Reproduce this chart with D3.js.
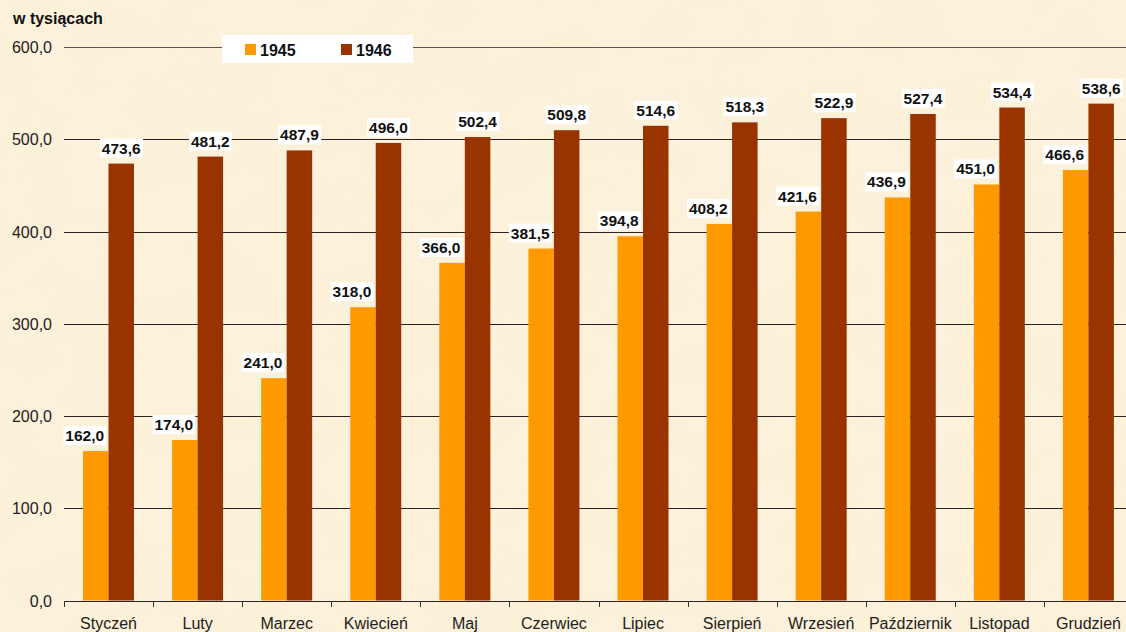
<!DOCTYPE html>
<html>
<head>
<meta charset="utf-8">
<script src="https://cdn.jsdelivr.net/npm/d3@7/dist/d3.min.js"></script>
<style>
  html, body { margin: 0; padding: 0; background: #fcf1da; }
  svg { display: block; font-family: Arial, "Liberation Sans", sans-serif; }
</style>
</head>
<body>
<svg id="chart" width="1126" height="632"></svg>
<script>
// Monthly figures, in thousands
const months = ["Styczeń", "Luty", "Marzec", "Kwiecień", "Maj", "Czerwiec",
                "Lipiec", "Sierpień", "Wrzesień", "Październik", "Listopad", "Grudzień"];
const seriesNames = ["1945", "1946"];
const values1945 = [162.0, 174.0, 241.0, 318.0, 366.0, 381.5, 394.8, 408.2, 421.6, 436.9, 451.0, 466.6];
const values1946 = [473.6, 481.2, 487.9, 496.0, 502.4, 509.8, 514.6, 518.3, 522.9, 527.4, 534.4, 538.6];
const yTicks = [0, 100, 200, 300, 400, 500, 600];
const unitLabel = "w tysiącach";

const colors = { "1945": "#ff9900", "1946": "#993300" };
const fmt = v => v.toFixed(1).replace(".", ",");

const svg = d3.select("#chart");
const W = 1126, H = 632;

// parchment background
const defs = svg.append("defs");
const f = defs.append("filter").attr("id", "paper").attr("x", 0).attr("y", 0)
  .attr("width", "100%").attr("height", "100%");
f.append("feTurbulence").attr("type", "fractalNoise").attr("baseFrequency", "0.015 0.022")
  .attr("numOctaves", 3).attr("seed", 7).attr("result", "noise");
f.append("feColorMatrix").attr("in", "noise").attr("type", "matrix")
  .attr("values", "0 0 0 0 0.95  0 0 0 0 0.86  0 0 0 0 0.66  0 0 0 1.4 -0.55")
  .attr("result", "tint");
f.append("feComposite").attr("in", "tint").attr("in2", "SourceGraphic").attr("operator", "in");
svg.append("rect").attr("width", W).attr("height", H).attr("fill", "#fcf1da");
svg.append("rect").attr("width", W).attr("height", H).attr("fill", "#fff").attr("filter", "url(#paper)").attr("opacity", 0.6);

const data = months.map((m, i) => ({ month: m, "1945": values1945[i], "1946": values1946[i] }));

const plotLeft = 64, plotRight = 1133, plotTop = 47, plotBottom = 600.5;
const x = d3.scaleBand().domain(months).range([plotLeft, plotRight]).padding(0);
const xs = d3.scaleBand().domain(seriesNames).range([19, 70]).padding(0);
const y = d3.scaleLinear().domain([0, 600]).range([plotBottom, plotTop]);

// gridlines
svg.append("g").selectAll("line").data(yTicks.filter(t => t > 0)).join("line")
  .attr("x1", plotLeft).attr("x2", W)
  .attr("y1", d => Math.round(y(d)) + 0.5).attr("y2", d => Math.round(y(d)) + 0.5)
  .attr("stroke", d => d === 600 ? "#5a5550" : "#2a2520").attr("stroke-width", 1.2);

// y tick labels
svg.append("g").selectAll("text").data(yTicks).join("text")
  .attr("x", 52).attr("y", d => y(d) + 6)
  .attr("text-anchor", "end").attr("font-size", 16).attr("fill", "#222")
  .text(d => fmt(d));

// unit label
svg.append("text").attr("x", 13).attr("y", 24).attr("font-size", 16)
  .attr("font-weight", "bold").attr("fill", "#111").text(unitLabel);

// bars
const groups = svg.append("g").selectAll("g").data(data).join("g")
  .attr("transform", d => `translate(${x(d.month)},0)`);
groups.selectAll("rect").data(d => seriesNames.map(s => ({ s, v: d[s] }))).join("rect")
  .attr("x", d => xs(d.s)).attr("width", xs.bandwidth())
  .attr("y", d => y(d.v)).attr("height", d => y(0) - y(d.v))
  .attr("fill", d => colors[d.s]);

// x axis
const xAxis = d3.axisBottom(x).tickSize(0).tickPadding(0);
const gx = svg.append("g").attr("transform", `translate(0,${Math.round(plotBottom) + 0.5})`).call(xAxis);
gx.select(".domain").attr("stroke", "#2a2520").attr("stroke-width", 1.2).attr("d", `M${plotLeft},0H${W}`);
gx.selectAll("text").attr("font-size", 16).attr("fill", "#222")
  .attr("font-family", "Arial, 'Liberation Sans', sans-serif").attr("y", 27).attr("dy", 0);
// tick marks at band boundaries
svg.append("g").selectAll("line").data(months).join("line")
  .attr("x1", d => Math.round(x(d)) + 0.5).attr("x2", d => Math.round(x(d)) + 0.5)
  .attr("y1", Math.round(plotBottom)).attr("y2", Math.round(plotBottom) + 6)
  .attr("stroke", "#333");

// data labels with white boxes
const labels = svg.append("g");
data.forEach(d => {
  seriesNames.forEach(s => {
    const cx = x(d.month) + xs(s) + xs.bandwidth() / 2 + (s === "1945" ? -11 : 0);
    const by = y(d[s]) - 6;
    const g = labels.append("g");
    const t = g.append("text").attr("x", cx).attr("y", by - 4)
      .attr("text-anchor", "middle").attr("font-size", 15.5).attr("font-weight", "bold")
      .attr("fill", "#111").text(fmt(d[s]));
    const bb = t.node().getBBox();
    g.insert("rect", "text").attr("x", bb.x - 2).attr("y", by - 19)
      .attr("width", bb.width + 4).attr("height", 19).attr("fill", "#fff");
  });
});

// legend
const lg = svg.append("g");
lg.append("rect").attr("x", 222).attr("y", 35).attr("width", 191).attr("height", 28).attr("fill", "#fff");
seriesNames.forEach((s, i) => {
  const lx = 245 + i * 96;
  lg.append("rect").attr("x", lx).attr("y", 44).attr("width", 11).attr("height", 11).attr("fill", colors[s]);
  lg.append("text").attr("x", lx + 15).attr("y", 55.5).attr("font-size", 16).attr("font-weight", "bold")
    .attr("fill", "#111").text(s);
});
</script>
</body>
</html>
